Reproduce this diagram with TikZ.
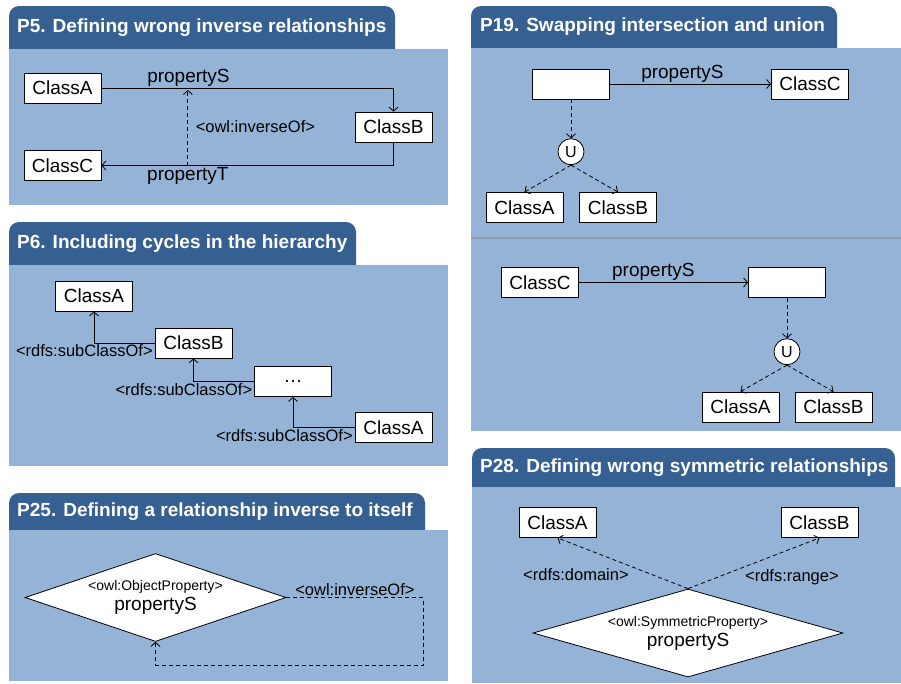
\documentclass[tikz,border=0pt]{standalone}
\usepackage{fontspec}
\setmainfont{Liberation Sans}
\usepackage{xcolor}
\usepackage{tikz}
\usetikzlibrary{
  arrows.meta,
  positioning,
  shapes.geometric,
  calc
}
\definecolor{TabBlue}{HTML}{376092}
\definecolor{PanelBlue}{HTML}{95B3D7}
\definecolor{RuleGray}{HTML}{8C9BAF}
\tikzset{
  tab/.style={
    fill=TabBlue,
    rounded corners=10pt
  },
  panel/.style={
    fill=PanelBlue
  },
  heading/.style={
    anchor=west,
    text=white,
    inner sep=0pt,
    font=\fontsize{19}{21}\selectfont\bfseries
  },
  classbox/.style={
    draw,
    fill=white,
    line width=0.8pt,
    minimum width=77pt,
    minimum height=30pt,
    inner sep=0pt,
    font=\fontsize{19}{21}\selectfont
  },
  property/.style={
    diamond,
    draw,
    fill=white,
    line width=0.8pt,
    inner sep=0pt,
    align=center,
    font=\fontsize{19}{20}\selectfont
  },
  unionop/.style={
    circle,
    draw,
    fill=white,
    line width=0.8pt,
    minimum size=26pt,
    inner sep=0pt,
    font=\fontsize{16}{16}\selectfont
  },
  edgelabel/.style={
    font=\fontsize{19}{21}\selectfont,
    inner sep=1.5pt
  },
  tag/.style={
    font=\fontsize{16.5}{18}\selectfont,
    inner sep=1.5pt
  },
  relation/.style={
    -{Straight Barb[length=4pt,width=9pt]},
    line width=0.8pt
  },
  inferred/.style={
    relation,
    dash pattern=on 4pt off 3pt
  }
}

\begin{document}
\begin{tikzpicture}[x=1pt,y=-1pt]

  \useasboundingbox (0,0) rectangle (901,683);

  % panel backgrounds
  \fill[tab] (9,6) rectangle (395,60);
  \fill[panel] (9,49) rectangle (448,205);
  \fill[tab] (9,222) rectangle (356,276);
  \fill[panel] (9,265) rectangle (448,466);
  \fill[tab] (9,493) rectangle (425,541);
  \fill[panel] (9,530) rectangle (448,681);
  \fill[tab] (471,6) rectangle (837,60);
  \fill[panel] (471,48) rectangle (901,431);
  \draw[RuleGray, line width=2pt] (471,237.5) -- (901,237.5);
  \fill[tab] (472,448) rectangle (895,498);
  \fill[panel] (472,487) rectangle (901,683);

  \node[heading] (h5) at (17,27.5) {P5. Defining wrong inverse relationships};
  \node[heading] (h6) at (17,243.5) {P6. Including cycles in the hierarchy};
  \node[heading] (h25) at (17,511.5) {P25. Defining a relationship inverse to itself};
  \node[heading] (h19) at (480,27) {P19. Swapping intersection and union};
  \node[heading] (h28) at (480,467.5) {P28. Defining wrong symmetric relationships};

  % P5
  \node[classbox] (a5) at (62.5,88) {ClassA};
  \node[classbox] (b5) at (393.5,127) {ClassB};
  \node[classbox] (c5) at (62.5,165.5) {ClassC};

  \draw[relation] (a5.east) -| (b5.north)
    node[edgelabel, pos=0.149, above] {propertyS}
    coordinate[pos=0.149] (s5);
  \draw[relation] (b5.south) |- (c5.east)
    node[edgelabel, pos=0.852, below] {propertyT}
    coordinate[pos=0.852] (t5);
  \draw[inferred, shorten >=2pt] (t5) -- (t5 |- s5)
    node[tag, midway, right=6pt] {<owl:inverseOf>};

  % P6
  \node[classbox] (a6) at (94,296) {ClassA};
  \node[classbox] (b6) at (193.5,343) {ClassB};
  \node[classbox] (d6) at (293,381.5) {\dots};
  \node[classbox] (e6) at (393.5,427.5) {ClassA};

  \draw[relation] (b6.west) -| (a6.south)
    node[tag, pos=0, anchor=north east] {<rdfs:subClassOf>};
  \draw[relation] (d6.west) -| (b6.south)
    node[tag, pos=0, anchor=north east] {<rdfs:subClassOf>};
  \draw[relation] (e6.west) -| (d6.south)
    node[tag, pos=0, anchor=north east] {<rdfs:subClassOf>};

  % P25
  \node[
    property,
    aspect=2.97,
    minimum width=261pt,
    minimum height=88pt
  ] (p25) at (155.5,597.5) {
    {\fontsize{14}{16}\selectfont <owl:ObjectProperty>}\\
    propertyS
  };

  \draw[inferred] (p25.east) -- ++(137,0)
    node[tag, midway, above] {<owl:inverseOf>}
    -- ++(0,67.5) -| (p25.south);

  % P19, upper case
  \node[classbox] (e19) at (571,84) {};
  \node[classbox] (c19) at (810,84) {ClassC};
  \node[unionop] (u19) at (571,151.7) {U};
  \node[classbox] (a19) at (524.5,207.5) {ClassA};
  \node[classbox] (b19) at (618,207.5) {ClassB};

  \draw[relation] (e19) -- (c19)
    node[edgelabel, pos=0.45, above] {propertyS};
  \draw[inferred] (e19) -- (u19);
  \draw[inferred] (u19.south) -- (a19.north);
  \draw[inferred] (u19.south) -- (b19.north);

  % P19, lower case
  \node[classbox] (c19b) at (540,282.5) {ClassC};
  \node[classbox] (e19b) at (787,282.5) {};
  \node[unionop] (u19b) at (787,351.7) {U};
  \node[classbox] (a19b) at (740.5,407) {ClassA};
  \node[classbox] (b19b) at (833.5,407) {ClassB};

  \draw[relation] (c19b) -- (e19b)
    node[edgelabel, pos=0.44, above] {propertyS};
  \draw[inferred] (e19b) -- (u19b);
  \draw[inferred] (u19b.south) -- (a19b.north);
  \draw[inferred] (u19b.south) -- (b19b.north);

  % P28
  \node[classbox] (a28) at (557.5,522.5) {ClassA};
  \node[classbox] (b28) at (819.5,522.5) {ClassB};
  \node[
    property,
    aspect=3.52,
    minimum width=310pt,
    minimum height=88pt
  ] (p28) at (688,633) {
    {\fontsize{14}{16}\selectfont <owl:SymmetricProperty>}\\
    propertyS
  };

  \draw[inferred] (p28.north) -- (a28.south)
    node[tag, pos=0.44, anchor=north east] {<rdfs:domain>};
  \draw[inferred] (p28.north) -- (b28.south)
    node[tag, pos=0.42, anchor=north west] {<rdfs:range>};

\end{tikzpicture}
\end{document}
